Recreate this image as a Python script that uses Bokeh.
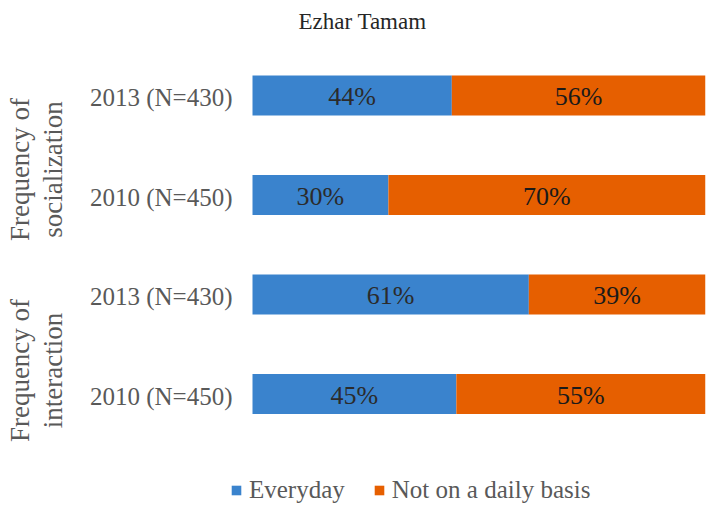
import math
from bokeh.plotting import figure
from bokeh.models import ColumnDataSource, Legend, LegendItem, Range1d
from bokeh.core.properties import value
from bokeh.embed import file_html
from bokeh.resources import INLINE

# data (bottom to top)
categories = ["2010 (N=450)", "2013 (N=430)", "2010 (N=450)", "2013 (N=430)"]
group_line1 = ["Frequency of", "Frequency of"]
group_line2 = ["interaction", "socialization"]
everyday = [45, 61, 30, 44]
not_daily = [55, 39, 70, 56]
series_names = ["Everyday", "Not on a daily basis"]
title_text = "Ezhar Tamam"

BLUE = "#3A83CD"
ORANGE = "#E65F00"
FONT = "Liberation Serif"
GRAY = "#595959"

ypos = list(range(1, len(categories) + 1))
right2 = [a + b for a, b in zip(everyday, not_daily)]

# ---- layout geometry (pixels) ----
W, H = 710, 511
BR = 5
bar_left_px = 252            # where value 0 sits
row_px = 99.5                # pixels per category row
top_row_center_px = 95       # centre of the top row
pxu = (W - BR - bar_left_px) / 100.0
x_start = -bar_left_px / pxu
y_top = len(categories) + top_row_center_px / row_px
y_bottom = y_top - H / row_px

def dxp(px):
    return x_start + px / pxu

def dyp(py):
    return y_top - py / row_px

p = figure(width=W, height=H, output_backend="svg", toolbar_location=None,
           x_range=Range1d(x_start, 100), y_range=Range1d(y_bottom, y_top),
           min_border_left=0, min_border_right=BR, min_border_top=0, min_border_bottom=0)
p.outline_line_color = None
p.xgrid.visible = False
p.ygrid.visible = False
p.xaxis.visible = False
p.yaxis.visible = False

src = ColumnDataSource(dict(
    y=ypos, cat=categories,
    e_left=[0] * len(ypos), e_right=everyday,
    n_left=everyday, n_right=right2,
    e_mid=[v / 2 for v in everyday],
    n_mid=[a + b / 2 for a, b in zip(everyday, not_daily)],
    e_lab=[f"{v}%" for v in everyday],
    n_lab=[f"{v}%" for v in not_daily],
))

r1 = p.hbar(y="y", left="e_left", right="e_right", height=0.4, source=src,
            fill_color=BLUE, line_color=None)
r2 = p.hbar(y="y", left="n_left", right="n_right", height=0.4, source=src,
            fill_color=ORANGE, line_color=None)

# value labels
p.text(x="e_mid", y="y", text="e_lab", source=src, text_align="center",
       text_baseline="middle", text_font=value(FONT), text_font_size="26px",
       text_color="#2b2b2b", y_offset=1)
p.text(x="n_mid", y="y", text="n_lab", source=src, text_align="center",
       text_baseline="middle", text_font=value(FONT), text_font_size="26px",
       text_color="#1a1a1a", y_offset=1)

# category (tick) labels
p.text(x=dxp(232), y="y", text="cat", source=src, text_align="right",
       text_baseline="middle", text_font=value(FONT), text_font_size="25px",
       text_color=GRAY, y_offset=2)

# group labels: two rotated lines
group_center_px = [370, 169]
gsrc = ColumnDataSource(dict(
    y=[dyp(c) for c in group_center_px],
    l1=group_line1, l2=group_line2,
))
p.text(x=dxp(19.5), y="y", text="l1", source=gsrc, angle=math.pi / 2,
       text_align="center", text_baseline="middle", text_font=value(FONT),
       text_font_size="27px", text_color=GRAY)
p.text(x=dxp(52), y="y", text="l2", source=gsrc, angle=math.pi / 2,
       text_align="center", text_baseline="middle", text_font=value(FONT),
       text_font_size="27px", text_color=GRAY)

# title
p.text(x=[dxp(362)], y=[dyp(21)], text=[title_text], text_align="center",
       text_baseline="middle", text_font=value(FONT), text_font_size="23px",
       text_color="#262626")

legend = Legend(items=[LegendItem(label=series_names[0], renderers=[r1]),
                       LegendItem(label=series_names[1], renderers=[r2])],
                location=(230, 7), orientation="horizontal",
                glyph_width=12, glyph_height=12, label_standoff=7, spacing=28,
                padding=0, margin=0, border_line_color=None, background_fill_alpha=0,
                label_text_font=FONT, label_text_font_size="25px",
                label_text_color=GRAY)
p.add_layout(legend, "center")

open("out.html", "w").write(file_html(p, INLINE))
